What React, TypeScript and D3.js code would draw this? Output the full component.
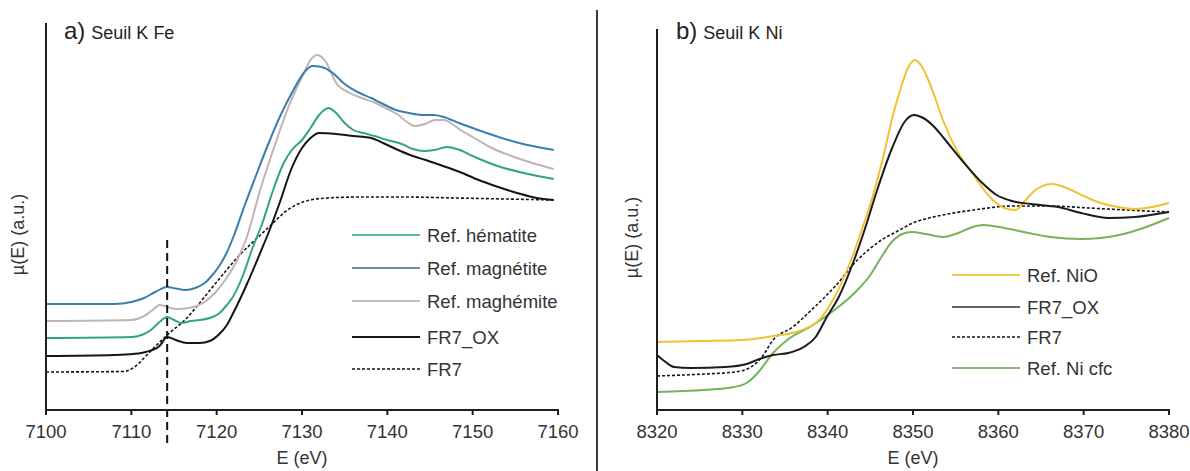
import React from "react";
import * as d3 from "d3";

// ---- Panel a) Fe K-edge ----
const feHematite: [number, number][] = [
  [7100, 0.72], [7110, 0.73], [7111.2, 0.75], [7112.3, 0.8], [7113.3, 0.88], [7114.2, 0.93],
  [7115, 0.9], [7115.8, 0.87], [7117, 0.89], [7118, 0.9], [7119.2, 0.92], [7120.2, 0.96],
  [7121.2, 1.05], [7121.9, 1.13], [7123.1, 1.35], [7124.2, 1.62], [7125.4, 1.88], [7126.5, 2.17],
  [7127.8, 2.46], [7128.8, 2.6], [7130, 2.7], [7131, 2.82], [7132, 2.95], [7133.1, 3.02],
  [7134, 2.97], [7135, 2.87], [7136, 2.8], [7137.2, 2.77], [7138.5, 2.74], [7140, 2.7],
  [7141.7, 2.66], [7143, 2.61], [7144.3, 2.59], [7145.5, 2.6], [7147, 2.63], [7148.5, 2.6],
  [7150, 2.54], [7152.9, 2.44], [7156, 2.37], [7159.5, 2.31],
];
const feMagnetite: [number, number][] = [
  [7100, 1.06], [7108, 1.06], [7110, 1.08], [7111.5, 1.12], [7112.8, 1.18], [7114.2, 1.23],
  [7115.2, 1.215], [7116.3, 1.2], [7117.5, 1.22], [7118.6, 1.27], [7119.5, 1.35], [7120.3, 1.44],
  [7121.1, 1.56], [7122, 1.74], [7123.3, 2.05], [7124.5, 2.32], [7126, 2.65], [7127.5, 2.95],
  [7129, 3.2], [7130.2, 3.37], [7131.2, 3.44], [7132.3, 3.43], [7133.6, 3.37], [7135, 3.26],
  [7136.5, 3.18], [7138.1, 3.12], [7139.5, 3.06], [7141, 3.0], [7142.5, 2.97], [7144, 2.95],
  [7145.5, 2.95], [7146.6, 2.93], [7148.4, 2.87], [7150, 2.82], [7152, 2.76], [7155, 2.68],
  [7157, 2.64], [7159.5, 2.6],
];
const feMaghemite: [number, number][] = [
  [7100, 0.89], [7110, 0.9], [7111.5, 0.94], [7112.5, 1.0], [7113.3, 1.05], [7114.2, 1.03],
  [7115.2, 1.01], [7116.8, 1.02], [7118.4, 1.07], [7119.9, 1.18], [7121, 1.3], [7121.9, 1.42],
  [7123.5, 1.72], [7125.1, 2.2], [7126.9, 2.67], [7128.5, 3.05], [7130, 3.33], [7131, 3.5],
  [7131.8, 3.55], [7132.8, 3.48], [7134, 3.27], [7135.6, 3.17], [7137, 3.12], [7138.6, 3.07],
  [7140, 3.01], [7141.3, 2.95], [7142.3, 2.88], [7143.2, 2.84], [7144.4, 2.86], [7145.6, 2.9],
  [7146.6, 2.9], [7147.6, 2.86], [7148.4, 2.81], [7150, 2.73], [7152, 2.63], [7155.2, 2.52],
  [7157, 2.47], [7159.5, 2.41],
];
const feFR7ox: [number, number][] = [
  [7100, 0.54], [7108, 0.55], [7110.2, 0.56], [7111.7, 0.58], [7113.3, 0.64], [7114.2, 0.73],
  [7115.2, 0.7], [7116.5, 0.67], [7118, 0.67], [7119.2, 0.69], [7120.2, 0.75], [7121.2, 0.85],
  [7122, 0.98], [7123.5, 1.25], [7125, 1.55], [7126.2, 1.8], [7127.5, 2.1], [7128.7, 2.4],
  [7130, 2.62], [7131, 2.72], [7132, 2.77], [7134, 2.76], [7136, 2.74], [7138.1, 2.72],
  [7139.5, 2.67], [7141, 2.61], [7143, 2.54], [7144.5, 2.5], [7146.2, 2.45], [7148.5, 2.38],
  [7150.7, 2.3], [7153, 2.23], [7155.2, 2.17], [7157.5, 2.12], [7159.5, 2.1],
];
const feFR7: [number, number][] = [
  [7100, 0.38], [7109, 0.385], [7110, 0.41], [7110.8, 0.46], [7111.6, 0.53], [7112.5, 0.61],
  [7114.2, 0.75], [7116.5, 0.92], [7118, 1.07], [7120, 1.28], [7122.7, 1.55], [7125, 1.74],
  [7126.5, 1.86], [7128, 1.98], [7129.5, 2.06], [7131, 2.1], [7133, 2.12], [7137, 2.13],
  [7142, 2.13], [7148, 2.12], [7154, 2.11], [7159.5, 2.1],
];
const feTicks = [7100, 7110, 7120, 7130, 7140, 7150, 7160];
const preEdgeE = 7114.2;

// ---- Panel b) Ni K-edge ----
const niNiO: [number, number][] = [
  [8320, 0.68], [8325, 0.69], [8330, 0.7], [8333.6, 0.74], [8336.3, 0.78], [8338, 0.84],
  [8339, 0.9], [8340.8, 1.13], [8342.6, 1.47], [8344, 1.8], [8345.5, 2.2], [8346.7, 2.6],
  [8347.6, 2.93], [8348.5, 3.2], [8349.4, 3.42], [8350.2, 3.5], [8351, 3.44], [8351.7, 3.32],
  [8352.6, 3.12], [8353.5, 2.9], [8355.3, 2.57], [8357.1, 2.35], [8358.9, 2.14], [8360.7, 2.02],
  [8362, 2.0], [8363.2, 2.1], [8364.5, 2.21], [8366.3, 2.26], [8368, 2.22], [8370, 2.14],
  [8372, 2.07], [8374, 2.03], [8376, 2.01], [8378, 2.03], [8380, 2.07],
];
const niFR7ox: [number, number][] = [
  [8320, 0.55], [8321, 0.48], [8322, 0.43], [8324, 0.42], [8328, 0.43], [8330.5, 0.46],
  [8332, 0.51], [8333.6, 0.55], [8335.4, 0.57], [8337.2, 0.63], [8338.6, 0.73], [8339.9, 0.93],
  [8341.3, 1.13], [8343.1, 1.5], [8344.4, 1.82], [8345.8, 2.2], [8347.6, 2.63], [8349, 2.88],
  [8350.1, 2.95], [8351.2, 2.92], [8352.5, 2.83], [8353.5, 2.73], [8355.7, 2.5], [8358, 2.28],
  [8359.8, 2.15], [8361.6, 2.09], [8363.8, 2.06], [8367, 2.03], [8369.7, 1.97], [8372.9, 1.92],
  [8376, 1.93], [8380, 1.98],
];
const niFR7: [number, number][] = [
  [8320, 0.34], [8325.5, 0.36], [8329.1, 0.38], [8331, 0.43], [8332.3, 0.53], [8333.6, 0.7],
  [8335.9, 0.83], [8338.1, 1.0], [8340.8, 1.23], [8343.5, 1.5], [8346.3, 1.7], [8348, 1.78],
  [8350, 1.87], [8353.5, 1.95], [8357.1, 2.0], [8361.6, 2.04], [8366, 2.04], [8370.6, 2.02],
  [8375, 2.0], [8380, 1.98],
];
const niCfc: [number, number][] = [
  [8320, 0.18], [8325.5, 0.2], [8329, 0.23], [8330.5, 0.27], [8331.8, 0.37], [8333.6, 0.57],
  [8335.4, 0.71], [8338.1, 0.84], [8340.8, 1.0], [8343.5, 1.2], [8345, 1.35], [8346.3, 1.53],
  [8347.5, 1.68], [8348.5, 1.75], [8349.8, 1.78], [8351.5, 1.76], [8353.5, 1.73], [8355.3, 1.77],
  [8357, 1.83], [8358.2, 1.85], [8360.7, 1.82], [8363.5, 1.77], [8366.1, 1.73], [8369.7, 1.71],
  [8372, 1.72], [8374.2, 1.75], [8377, 1.82], [8380, 1.92],
];
const niTicks = [8320, 8330, 8340, 8350, 8360, 8370, 8380];

const FONT = "'Liberation Sans', Arial, Helvetica, sans-serif";
const AXIS = "#1e1e1e";

type Series = {
  name: string;
  data: [number, number][];
  color: string;
  dash?: string;
  legendColor?: string;
};

const feSeries: Series[] = [
  { name: "Ref. hématite", data: feHematite, color: "#33a676", legendColor: "#55bf93" },
  { name: "Ref. magnétite", data: feMagnetite, color: "#3a7eab", legendColor: "#5c93b0" },
  { name: "Ref. maghémite", data: feMaghemite, color: "#c3b2b8", legendColor: "#c4bcbf" },
  { name: "FR7_OX", data: feFR7ox, color: "#151515" },
  { name: "FR7", data: feFR7, color: "#151515", dash: "3,2" },
];
const niSeries: Series[] = [
  { name: "Ref. NiO", data: niNiO, color: "#f0c232", legendColor: "#f2c94a" },
  { name: "FR7_OX", data: niFR7ox, color: "#1c1c1c", legendColor: "#666666" },
  { name: "FR7", data: niFR7, color: "#151515", dash: "3,2" },
  { name: "Ref. Ni cfc", data: niCfc, color: "#77b25c", legendColor: "#8ab47a" },
];

type PanelProps = {
  x0: number;
  x1: number;
  yTop: number;
  yBottom: number;
  domain: [number, number];
  yMax: number;
  ticks: number[];
  series: Series[];
  letter: string;
  title: string;
  titleX: number;
  labelX: number;
  legendX: number;
  legendY: number[];
  drawOrder: number[];
  marker?: number;
};

function Panel(p: PanelProps) {
  const x = d3.scaleLinear().domain(p.domain).range([p.x0, p.x1]);
  const y = d3.scaleLinear().domain([0, p.yMax]).range([p.yBottom, p.yTop]);
  const line = d3
    .line<[number, number]>()
    .x((d) => x(d[0]))
    .y((d) => y(d[1]))
    .curve(d3.curveMonotoneX);
  const midX = (p.x0 + p.x1) / 2;
  const midY = (p.yTop + p.yBottom) / 2 + 18;
  return (
    <g fontFamily={FONT}>
      {/* curves */}
      {p.drawOrder.map((i) => {
        const s = p.series[i];
        return (
          <path
            key={s.name}
            d={line(s.data) || ""}
            fill="none"
            stroke={s.color}
            strokeWidth={s.dash ? 1.6 : 2}
            strokeDasharray={s.dash}
            strokeLinejoin="round"
          />
        );
      })}
      {p.marker !== undefined && (
        <line
          x1={x(p.marker)}
          x2={x(p.marker)}
          y1={240}
          y2={445}
          stroke="#111"
          strokeWidth={2}
          strokeDasharray="8,5"
        />
      )}
      {/* axes */}
      <line x1={p.x0} x2={p.x0} y1={p.yTop} y2={p.yBottom + 1} stroke={AXIS} strokeWidth={2} />
      <line x1={p.x0} x2={p.x1 + 1} y1={p.yBottom} y2={p.yBottom} stroke={AXIS} strokeWidth={2} />
      {p.ticks.map((t) => (
        <g key={t}>
          <line x1={x(t)} x2={x(t)} y1={p.yBottom} y2={p.yBottom + 5} stroke={AXIS} strokeWidth={2} />
          <text x={x(t)} y={438} textAnchor="middle" fontSize={18.5} fill="#333">
            {t}
          </text>
        </g>
      ))}
      <text x={midX} y={464} textAnchor="middle" fontSize={18} fill="#333">
        E (eV)
      </text>
      <text
        transform={`translate(${p.labelX},${midY}) rotate(-90)`}
        textAnchor="middle"
        fontSize={18}
        fill="#333"
      >
        µ(E) (a.u.)
      </text>
      {/* title */}
      <text x={p.titleX} y={39} fill="#222">
        <tspan fontSize={24}>{p.letter}</tspan>
        <tspan fontSize={18} dx={6}>
          {p.title}
        </tspan>
      </text>
      {/* legend */}
      {p.series.map((s, i) => (
        <g key={"lg" + s.name}>
          <line
            x1={p.legendX}
            x2={p.legendX + 68}
            y1={p.legendY[i]}
            y2={p.legendY[i]}
            stroke={s.legendColor || s.color}
            strokeWidth={s.dash ? 1.5 : 2}
            strokeDasharray={s.dash}
          />
          <text x={p.legendX + 75} y={p.legendY[i] + 6.5} fontSize={18.5} fill="#333">
            {s.name}
          </text>
        </g>
      ))}
    </g>
  );
}

export default function App() {
  return (
    <svg
      width={1190}
      height={471}
      viewBox="0 0 1190 471"
      style={{ position: "fixed", left: 0, top: 0, background: "#fff" }}
    >
      <rect width={1190} height={471} fill="#fff" />
      <Panel
        x0={46}
        x1={558}
        yTop={23}
        yBottom={410}
        domain={[7100, 7160]}
        yMax={3.87}
        ticks={feTicks}
        series={feSeries}
        letter="a)"
        title="Seuil K Fe"
        titleX={64}
        labelX={24}
        legendX={352}
        legendY={[235, 268, 301, 337, 369]}
        drawOrder={[4, 3, 2, 0, 1]}
        marker={preEdgeE}
      />
      <Panel
        x0={657}
        x1={1169}
        yTop={29}
        yBottom={410}
        domain={[8320, 8380]}
        yMax={3.81}
        ticks={niTicks}
        series={niSeries}
        letter="b)"
        title="Seuil K Ni"
        titleX={676}
        labelX={638}
        legendX={952}
        legendY={[275, 307, 337, 368]}
        drawOrder={[3, 2, 0, 1]}
      />
      <line x1={597} x2={597} y1={10} y2={471} stroke="#3a3a3a" strokeWidth={2} />
    </svg>
  );
}
